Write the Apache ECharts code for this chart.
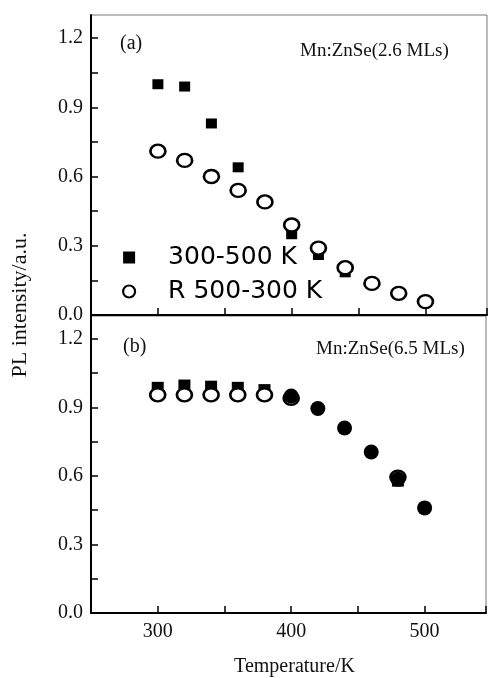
<!DOCTYPE html>
<html>
<head>
<meta charset="utf-8">
<script src="https://cdn.jsdelivr.net/npm/echarts@6/dist/echarts.min.js"></script>
<style>
  html, body { margin: 0; padding: 0; background: #fff; }
  #chart { width: 489px; height: 678px; }
</style>
</head>
<body>
<div id="chart"></div>
<script>
// Panel (a): Mn:ZnSe 2.6 MLs
const tempA_heat = [300, 320, 340, 360, 400, 420, 440];
const plA_heat   = [1.00, 0.99, 0.83, 0.64, 0.35, 0.26, 0.185];
const tempA_cool = [300, 320, 340, 360, 380, 400, 420, 440, 460, 480, 500];
const plA_cool   = [0.71, 0.67, 0.60, 0.54, 0.49, 0.39, 0.29, 0.205, 0.137, 0.094, 0.058];

// Panel (b): Mn:ZnSe 6.5 MLs
const tempB_heat = [300, 320, 340, 360, 380, 480];
const plB_heat   = [0.99, 1.00, 0.995, 0.99, 0.98, 0.575];
const tempB_cool = [300, 320, 340, 360, 380, 400, 480];
const plB_cool   = [0.955, 0.955, 0.955, 0.955, 0.955, 0.94, 0.595];
const tempB_both = [400, 420, 440, 460, 480, 500];
const plB_both   = [0.95, 0.895, 0.81, 0.705, 0.585, 0.46];

const yTickLabels = ['0.0', '0.3', '0.6', '0.9', '1.2'];
const xTickLabels = ['300', '400', '500'];
const legendNames = ['300-500 K', 'R 500-300 K'];

const SERIF = "'Liberation Serif', 'Times New Roman', serif";
const SANS = "'DejaVu Sans', sans-serif";

const pairs = (xs, ys) => xs.map((x, i) => [x, ys[i]]);

function yLabel(v) {
  const k = v / 0.3;
  const i = Math.round(k);
  return Math.abs(k - i) < 1e-6 && i < yTickLabels.length ? yTickLabels[i] : '';
}
function xLabel(v) {
  const s = String(Math.round(v));
  return xTickLabels.includes(s) ? s : '';
}

function xAxisFor(gridIndex, showLabels) {
  return {
    type: 'value', gridIndex, min: 250, max: 546, interval: 50,
    axisLine: { show: true, onZero: false, lineStyle: { color: '#000', width: 2 } },
    axisTick: { show: true, inside: true, length: 7, lineStyle: { color: '#000', width: 1.5 } },
    axisLabel: { show: showLabels, formatter: xLabel, color: '#111', fontFamily: SERIF, fontSize: 20, margin: 9 },
    splitLine: { show: false },
    name: showLabels ? 'Temperature/K' : '',
    nameLocation: 'middle', nameGap: 44,
    nameTextStyle: { color: '#111', fontFamily: SERIF, fontSize: 20, padding: [0, 0, 0, 12] }
  };
}
function yAxisFor(gridIndex) {
  return {
    type: 'value', gridIndex, min: 0, max: 1.3, interval: 0.15,
    axisLine: { show: true, onZero: false, lineStyle: { color: '#000', width: 2 } },
    axisTick: { show: true, inside: true, length: 7, lineStyle: { color: '#000', width: 1.5 } },
    axisLabel: { formatter: yLabel, color: '#111', fontFamily: SERIF, fontSize: 20, margin: 8, showMaxLabel: false },
    splitLine: { show: false }
  };
}

const squareStyle = { color: '#000', opacity: 1 };
const ringStyle = { color: '#fff', borderColor: '#000', borderWidth: 2.5, opacity: 1 };

const chart = echarts.init(document.getElementById('chart'), null, { renderer: 'canvas' });
chart.setOption({
  backgroundColor: '#fff',
  animation: false,
  grid: [
    { left: 91, top: 15, width: 396, height: 300, show: true, borderColor: '#777', borderWidth: 1 },
    { left: 91, top: 316, width: 396, height: 299, show: true, borderColor: '#777', borderWidth: 1 }
  ],
  xAxis: [xAxisFor(0, false), xAxisFor(1, true)],
  yAxis: [yAxisFor(0), yAxisFor(1)],
  legend: {
    data: [
      { name: legendNames[0], icon: 'rect', itemStyle: { color: '#000', borderWidth: 0, opacity: 1 } },
      { name: legendNames[1], icon: 'circle', itemStyle: { color: '#fff', borderColor: '#000', borderWidth: 2.2, opacity: 1 } }
    ],
    orient: 'vertical',
    left: 122, top: 245, padding: 0,
    itemWidth: 12, itemHeight: 12, itemGap: 9,
    textStyle: { color: '#000', fontFamily: SANS, fontSize: 25, lineHeight: 24, padding: [0, 0, 0, 28] }
  },
  graphic: [
    { type: 'text', left: 120, top: 34, style: { text: '(a)', font: '20px ' + SERIF, fill: '#111' } },
    { type: 'text', left: 300, top: 42, style: { text: 'Mn:ZnSe(2.6 MLs)', font: '19px ' + SERIF, fill: '#111' } },
    { type: 'text', left: 123, top: 337, style: { text: '(b)', font: '20px ' + SERIF, fill: '#111' } },
    { type: 'text', left: 316, top: 340, style: { text: 'Mn:ZnSe(6.5 MLs)', font: '19px ' + SERIF, fill: '#111' } },
    { type: 'text', x: 20, y: 305, rotation: Math.PI / 2,
      style: { text: 'PL intensity/a.u.', font: '22px ' + SERIF, fill: '#111', align: 'center', verticalAlign: 'middle' } }
  ],
  series: [
    { name: legendNames[0], type: 'scatter', xAxisIndex: 0, yAxisIndex: 0, z: 2,
      symbol: 'rect', symbolSize: [11, 10], itemStyle: squareStyle, data: pairs(tempA_heat, plA_heat) },
    { name: legendNames[1], type: 'scatter', xAxisIndex: 0, yAxisIndex: 0, z: 3,
      symbol: 'circle', symbolSize: [15, 13], itemStyle: ringStyle, data: pairs(tempA_cool, plA_cool) },
    { name: legendNames[0], type: 'scatter', xAxisIndex: 1, yAxisIndex: 1, z: 2,
      symbol: 'rect', symbolSize: [12, 10], itemStyle: squareStyle, data: pairs(tempB_heat, plB_heat) },
    { name: legendNames[1], type: 'scatter', xAxisIndex: 1, yAxisIndex: 1, z: 3,
      symbol: 'circle', symbolSize: [15, 13], itemStyle: ringStyle, data: pairs(tempB_cool, plB_cool) },
    { name: 'coincident', type: 'scatter', xAxisIndex: 1, yAxisIndex: 1, z: 4,
      symbol: 'circle', symbolSize: [15, 15], itemStyle: { color: '#000', opacity: 1 }, data: pairs(tempB_both, plB_both) }
  ]
});
</script>
</body>
</html>
